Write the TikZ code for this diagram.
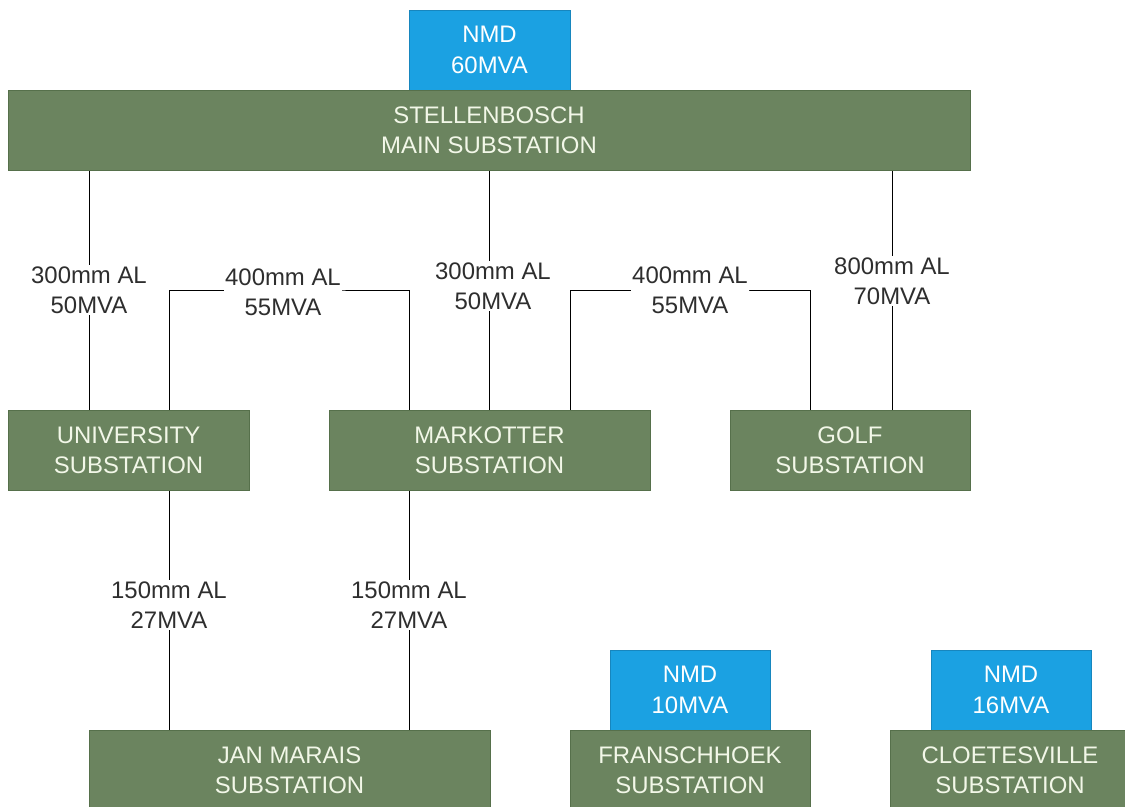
\documentclass[tikz,border=0pt]{standalone}
\usepackage{fontspec}
\setmainfont{Liberation Sans}
\usetikzlibrary{backgrounds}
\definecolor{subgreen}{HTML}{6B845F}
\definecolor{subedge}{HTML}{56704B}
\definecolor{subtext}{HTML}{F2F7E8}
\definecolor{nmdblue}{HTML}{1BA1E2}
\definecolor{nmdedge}{HTML}{1786BE}
\definecolor{cablegray}{HTML}{2E2E2E}
\begin{document}
\begin{tikzpicture}[x=0.025cm,y=-0.025cm,
  sub/.style={draw=subedge,fill=subgreen,text=subtext,align=center,
    minimum height=2cm,inner sep=0pt,font=\fontsize{17}{21.5}\selectfont},
  nmd/.style={draw=nmdedge,fill=nmdblue,text=white,align=center,
    minimum width=4cm,minimum height=2cm,inner sep=0pt,font=\fontsize{17}{21.5}\selectfont},
  cable/.style={fill=white,text=cablegray,align=center,inner sep=1pt,
    font=\fontsize{17}{21.5}\selectfont}]
  \useasboundingbox (0,0) rectangle (1125,807);
  \node[nmd,minimum width=4.025cm] (nmdmain) at (489.5,50) {NMD\\60MVA};
  \node[sub,minimum width=24.05cm] (main) at (489,130) {STELLENBOSCH\\MAIN SUBSTATION};
  \node[sub,minimum width=6.025cm] (uni) at (128.5,450) {UNIVERSITY\\SUBSTATION};
  \node[sub,minimum width=8.025cm] (mark) at (489.5,450) {MARKOTTER\\SUBSTATION};
  \node[sub,minimum width=6cm] (golf) at (850,450) {GOLF\\SUBSTATION};
  \node[sub,minimum width=10.025cm] (jan) at (289.5,770) {JAN MARAIS\\SUBSTATION};
  \node[nmd] (nmdfran) at (690,690) {NMD\\10MVA};
  \node[sub,minimum width=6cm] (fran) at (690,770) {FRANSCHHOEK\\SUBSTATION};
  \node[nmd] (nmdcloe) at (1011,690) {NMD\\16MVA};
  \node[sub,minimum width=6cm] (cloe) at (1010,770) {CLOETESVILLE\\SUBSTATION};
  \node[cable] (c1) at (89,290) {300mm AL\\50MVA};
  \node[cable] (c2) at (283,292) {400mm AL\\55MVA};
  \node[cable] (c3) at (493,286) {300mm AL\\50MVA};
  \node[cable] (c4) at (690,290) {400mm AL\\55MVA};
  \node[cable] (c5) at (892,281) {800mm AL\\70MVA};
  \node[cable] (c6) at (169,605) {150mm AL\\27MVA};
  \node[cable] (c7) at (409,605) {150mm AL\\27MVA};
  \coordinate (t1) at (570,0);
  \coordinate (t2) at (810,0);
  \begin{scope}[on background layer,draw=cablegray,line width=0.9pt]
    \draw (main.south -| c1) -- (uni.north -| c1);
    \draw (main.south -| mark) -- (mark.north);
    \draw (main.south -| c5) -- (golf.north -| c5);
    \draw (uni.north -| c6) |- ([yshift=2*0.025cm]c2.center) -| (mark.north -| c7);
    \draw (mark.north -| t1) |- (c4.center) -| (golf.north -| t2);
    \draw (uni.south -| c6) -- (jan.north -| c6);
    \draw (mark.south -| c7) -- (jan.north -| c7);
  \end{scope}
\end{tikzpicture}
\end{document}
